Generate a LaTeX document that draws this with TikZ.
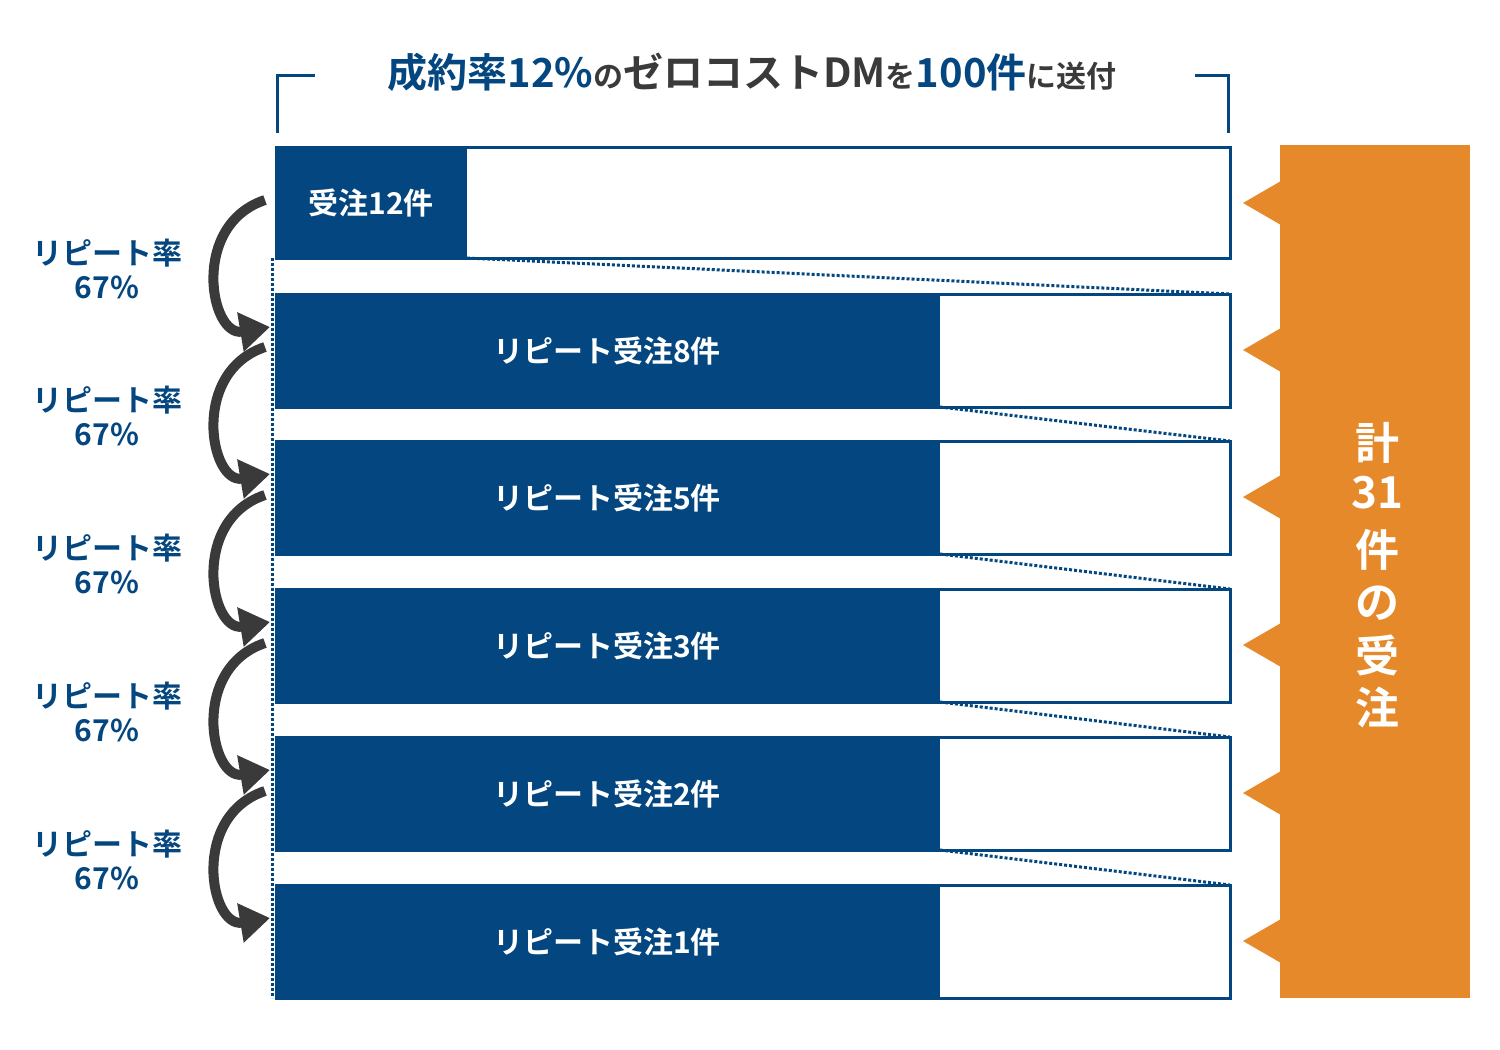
\documentclass[tikz,border=0pt]{standalone}
\usepackage{fontspec}
\setmainfont{Noto Sans CJK JP}[BoldFont={Noto Sans CJK JP Bold}]
\usepackage{xcolor}
\usetikzlibrary{arrows.meta,positioning}
\definecolor{dmblue}{HTML}{04467F}
\definecolor{dmorange}{HTML}{E6892B}
\definecolor{dmgray}{HTML}{3A3A3A}
\tikzset{
  rowbox/.style={draw=dmblue,line width=3pt,fill=white},
  barfill/.style={fill=dmblue},
  bartext/.style={text=white,font=\bfseries\fontsize{30}{30}\selectfont},
  ratetext/.style={text=dmblue,font=\bfseries\fontsize{30}{34}\selectfont,align=center},
  repeatarrow/.style={draw=dmgray,line width=10pt,-{Triangle[length=30pt,width=38pt]}},
  gap/.style={dmblue,line width=3pt,dotted}
}
\begin{document}
\begin{tikzpicture}[x=1pt,y=-1pt]
    \useasboundingbox (0,0) rectangle (1500,1050);

    % Title with bracket
    \node (title) at (752,72) {\bfseries\fontsize{40}{40}\selectfont
        \textcolor{dmblue}{成約率12\%}\textcolor{dmgray}{\fontsize{30}{30}\selectfont の}%
        \textcolor{dmgray}{ゼロコストDM}\textcolor{dmgray}{\fontsize{30}{30}\selectfont を}%
        \textcolor{dmblue}{100件}\textcolor{dmgray}{\fontsize{30}{30}\selectfont に送付}};
    \draw[dmblue,line width=3pt] (315,75) -- (277,75) -- (277,133);
    \draw[dmblue,line width=3pt] (1195,75) -- (1228,75) -- (1228,133);

    % Orange total box
    \fill[dmorange] (1280,145) rectangle (1470,998);
    \foreach \yc in {203,350,497,645,793,941} {
        \fill[dmorange] (1281,\yc-22) -- (1243,\yc) -- (1281,\yc+22) -- cycle;
    }
    \foreach \txt/\yy in {計/443,31/493,件/550,の/603,受/655,注/707} {
        \node[text=white,font=\bfseries\fontsize{44}{44}\selectfont] at (1377,\yy) {\txt};
    }

    % First row
    \draw[rowbox] (276,147) rectangle (1230,258);
    \fill[barfill] (276,147) rectangle (467,258);
    \node[bartext] (r0) at (371,203) {受注12件};
    \coordinate (c0) at (467,258);

    % Repeat rows
    \foreach \i/\top/\num in {1/294/8,2/441/5,3/589/3,4/737/2,5/885/1} {
        \draw[rowbox] (276,\top) rectangle (1230,\top+113);
        \fill[barfill] (276,\top-1.5) rectangle (940,\top+114.5);
        \node[bartext] (r\i) at (607,\top+57) {リピート受注\num 件};
        \coordinate (t\i) at (1230,\top);
        \coordinate (c\i) at (940,\top+113);
        \coordinate (a\i) at (265,\top-94);
        \coordinate (b\i) at (270,\top+33);
        \node[ratetext] (rate\i) at (107,\top-25) {リピート率\\67\%};
    }
    \draw[gap] (c0) -- (t1);
    \foreach \i [evaluate=\i as \j using int(\i+1)] in {1,2,3,4} {
        \draw[gap] (c\i) -- (t\j);
    }
    \draw[gap] (272,258) -- (272,998);

    % Repeat arrows
    \foreach \i in {1,...,5} {
        \draw[repeatarrow] (a\i) .. controls +(-75,25) and +(-60,10) .. (b\i);
    }
\end{tikzpicture}
\end{document}
